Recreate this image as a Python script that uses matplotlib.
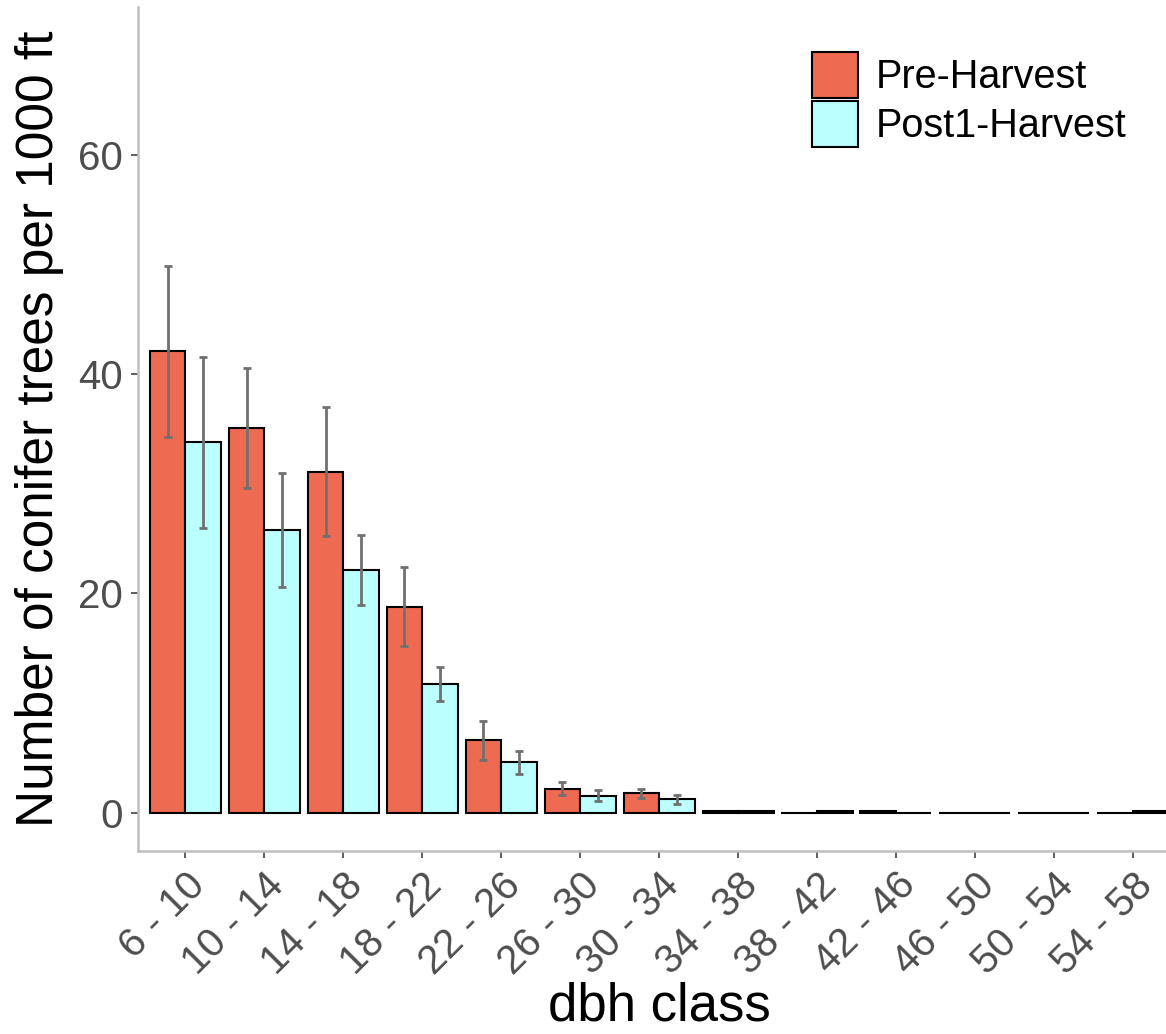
import numpy as np
import matplotlib.pyplot as plt
from matplotlib.patches import Patch

# dbh classes and mean conifer counts
classes = ["6 - 10", "10 - 14", "14 - 18", "18 - 22", "22 - 26", "26 - 30",
           "30 - 34", "34 - 38", "38 - 42", "42 - 46", "46 - 50", "50 - 54",
           "54 - 58"]
pre_mean = [42.1, 35.1, 31.1, 18.8, 6.6, 2.2, 1.75, 0.15, 0.0, 0.15, 0.0, 0.0, 0.0]
post_mean = [33.8, 25.8, 22.1, 11.75, 4.6, 1.55, 1.2, 0.15, 0.15, 0.0, 0.0, 0.0, 0.15]
pre_err = [7.8, 5.5, 5.9, 3.6, 1.8, 0.6, 0.4, np.nan, np.nan, np.nan, np.nan, np.nan, np.nan]
post_err = [7.8, 5.2, 3.2, 1.55, 1.05, 0.5, 0.4, np.nan, np.nan, np.nan, np.nan, np.nan, np.nan]

pre_col = "#EE6A50"
post_col = "#BBFFFF"

plt.rcParams['font.family'] = ['Liberation Sans', 'DejaVu Sans']

fig = plt.figure(figsize=(11.66, 10.34), dpi=100)
ax = fig.add_axes([0.11835, 0.177, 0.8938, 0.8162])

x = np.arange(len(classes))
w = 0.45
ax.bar(x - w / 2, pre_mean, width=w, color=pre_col, edgecolor="black", linewidth=1.5)
ax.bar(x + w / 2, post_mean, width=w, color=post_col, edgecolor="black", linewidth=1.5)
ax.errorbar(x - w / 2, pre_mean, yerr=pre_err, fmt="none", ecolor="#707070",
            elinewidth=2, capsize=2.6, capthick=2)
ax.errorbar(x + w / 2, post_mean, yerr=post_err, fmt="none", ecolor="#707070",
            elinewidth=2, capsize=2.6, capthick=2)

ax.set_xlim(-0.6, len(classes) - 0.4)
ax.set_ylim(-3.5, 73.5)
ax.set_yticks([0, 20, 40, 60])
ax.set_xticks(x)
ax.set_xticklabels(classes, rotation=45, ha="right", va="top",
                   rotation_mode="anchor")

for s in ["top", "right"]:
    ax.spines[s].set_visible(False)
for s in ["left", "bottom"]:
    ax.spines[s].set_color("#BEBEBE")
    ax.spines[s].set_linewidth(1.8)

ax.tick_params(axis="both", colors="#333333", length=5, width=1.1,
               labelsize=29, labelcolor="#4D4D4D", pad=5.8)

ax.set_xlabel("dbh class", fontsize=38, color="black")
ax.xaxis.set_label_coords(0.5, -0.155)
ax.set_ylabel("Number of conifer trees per 1000 ft", fontsize=37,
              color="black")
ax.yaxis.set_label_coords(-0.071, 0.5)

handles = [Patch(facecolor=pre_col, edgecolor="black", linewidth=1.5),
           Patch(facecolor=post_col, edgecolor="black", linewidth=1.5)]
fig.legend(handles, ["Pre-Harvest", "Post1-Harvest"], loc="upper left",
           bbox_to_anchor=(812 / 1166, 1 - 52 / 1034), frameon=False,
           fontsize=28.5, handlelength=1.16, handleheight=1.41,
           handletextpad=0.45, labelspacing=0.076, borderpad=0,
           borderaxespad=0)

fig.savefig("out.png", dpi=100)
